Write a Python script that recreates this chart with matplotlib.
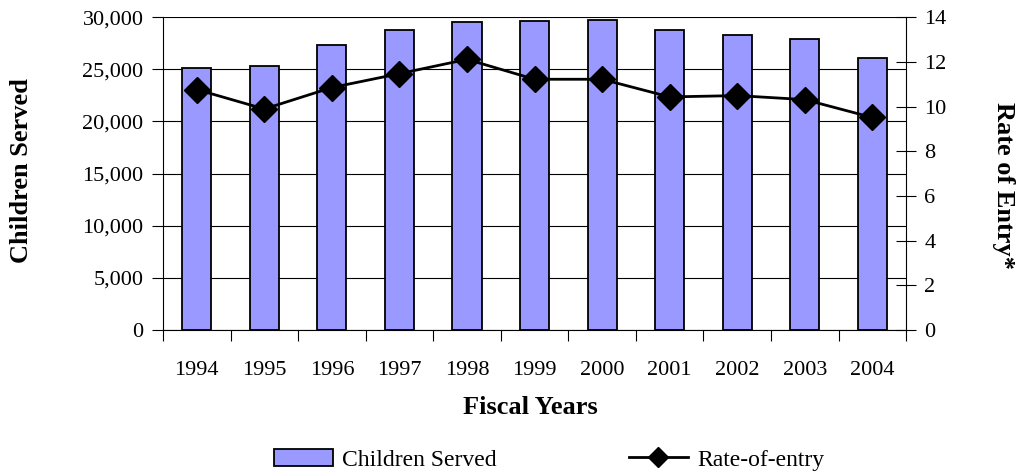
import numpy as np
import matplotlib
matplotlib.use("Agg")
import matplotlib.pyplot as plt
from matplotlib.ticker import FuncFormatter
from matplotlib.lines import Line2D
from matplotlib.patches import Patch

years = ['1994', '1995', '1996', '1997', '1998', '1999', '2000', '2001', '2002', '2003', '2004']
children_served = [25150, 25350, 27300, 28800, 29560, 29600, 29760, 28800, 28250, 27870, 26120]
rate_of_entry = [10.76, 9.89, 10.85, 11.47, 12.11, 11.22, 11.22, 10.43, 10.49, 10.31, 9.51]

plt.rcParams['font.family'] = ['Liberation Serif', 'DejaVu Serif']

fig = plt.figure(figsize=(10.25, 4.75), dpi=100)
ax = fig.add_axes([0.159, 0.305, 0.725, 0.659])
x = np.arange(len(years))

ax.bar(x, children_served, width=0.43, color='#9999FF', edgecolor='black',
       linewidth=1.3, zorder=2)
ax.set_ylim(0, 30000)
ax.set_xlim(-0.5, len(years) - 0.5)
ax.set_yticks(range(0, 30001, 5000))
ax.yaxis.set_major_formatter(FuncFormatter(lambda v, p: f'{int(v):,}'))
ax.yaxis.grid(True, color='black', linewidth=0.8, zorder=0)
ax.set_axisbelow(True)

# x ticks at category boundaries, labels centred
ax.set_xticks(np.arange(-0.5, len(years), 1.0))
ax.set_xticklabels([])
ax.set_xticks(x, minor=True)
ax.set_xticklabels(years, minor=True)
ax.tick_params(axis='x', which='minor', length=0, pad=22, labelsize=16)
ax.tick_params(axis='x', which='major', length=8, color='black', direction='out')
ax.tick_params(axis='y', labelsize=16, length=8, color='black', pad=6)

for s in ['top', 'right']:
    ax.spines[s].set_visible(False)

ax2 = ax.twinx()
ax2.plot(x, rate_of_entry, color='black', linewidth=2, marker='D',
         markersize=13, zorder=3)
ax2.set_ylim(0, 14)
ax2.set_yticks(range(0, 15, 2))
ax2.tick_params(axis='y', labelsize=16, length=14, color='black', direction='inout', pad=6)
for s in ['top', 'left', 'bottom']:
    ax2.spines[s].set_visible(False)

fig.text(22 / 1025, 0.64, 'Children Served', fontsize=19, fontweight='bold',
         rotation=90, ha='center', va='center')
fig.text(1003 / 1025, 0.61, 'Rate of Entry*', fontsize=19, fontweight='bold',
         rotation=-90, ha='center', va='center')
fig.text(530 / 1025, 1 - 408 / 475, 'Fiscal Years', fontsize=19,
         fontweight='bold', ha='center', va='center')

handles = [Patch(facecolor='#9999FF', edgecolor='black', linewidth=1.3),
           Line2D([0], [0], color='black', linewidth=2, marker='D', markersize=10)]
fig.legend(handles, ['Children Served', 'Rate-of-entry'], loc='center',
           bbox_to_anchor=(0.5356, 0.032), ncol=2, frameon=False, fontsize=17,
           columnspacing=5.6, handlelength=2.5, handletextpad=0.4)

fig.savefig('out.png', dpi=100)
